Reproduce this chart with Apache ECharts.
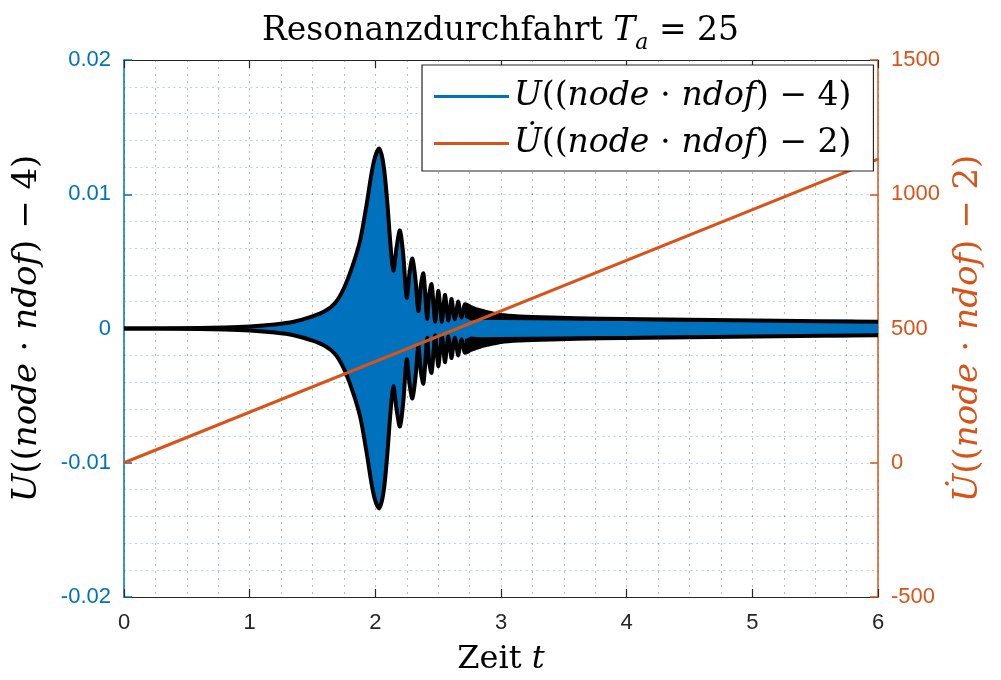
<!DOCTYPE html>
<html>
<head>
<meta charset="utf-8">
<script src="https://cdn.jsdelivr.net/npm/echarts@6/dist/echarts.min.js"></script>
<style>
  html, body { margin: 0; padding: 0; background: #ffffff; }
  #chart { width: 1001px; height: 680px; }
</style>
</head>
<body>
<div id="chart"></div>
<script>
// Displacement envelope U((node·ndof)-4): sample times and peak amplitude
const envTime = [0, 0.4, 0.8, 1.0, 1.2, 1.35, 1.5, 1.6, 1.68, 1.75, 1.82, 1.88, 1.93, 1.985, 2.03,
  2.065, 2.095, 2.12, 2.143, 2.17, 2.196, 2.222, 2.25, 2.273, 2.295, 2.32, 2.342, 2.362, 2.382,
  2.397, 2.412, 2.427, 2.447, 2.462, 2.476, 2.49, 2.502, 2.516, 2.53, 2.543, 2.555, 2.569, 2.582,
  2.595, 2.607, 2.62, 2.634, 2.647, 2.66, 2.673, 2.686, 2.7, 2.713, 2.76, 2.83, 2.9, 3.0, 3.15,
  3.4, 3.8, 4.5, 5.2, 6];
const envAmp = [0, 0.00002, 0.00008, 0.00015, 0.0003, 0.0005, 0.0009, 0.0013, 0.0019, 0.0030,
  0.0047, 0.0066, 0.0092, 0.0123, 0.0134,
  0.0122, 0.0094, 0.0063, 0.0043, 0.0061, 0.0073, 0.0055, 0.0023, 0.0042, 0.0052, 0.0036, 0.0013,
  0.0032, 0.0041, 0.0026, 0.0007, 0.0024, 0.0033, 0.0019, 0.0005, 0.0019, 0.0028, 0.0016, 0.0005,
  0.0017, 0.0025, 0.0014, 0.0006, 0.0015, 0.0022, 0.0013, 0.0007, 0.0014, 0.0020, 0.0013, 0.0008,
  0.0013, 0.0018, 0.0016, 0.00136, 0.0012, 0.0010, 0.0009, 0.00082, 0.00073, 0.00065, 0.00058,
  0.00051];

// Inner edge of the dense oscillation band (blue core) from t = 2.713 on
const coreTime = [2.713, 2.76, 2.83, 3.0, 3.5, 4.0, 5.0, 6.0];
const coreAmp = [0.0008, 0.0006, 0.00065, 0.00063, 0.0006, 0.00055, 0.0005, 0.00047];

// Velocity Udot((node·ndof)-2): straight ramp
const velTime = [0, 6];
const velValue = [0, 1131];

// Tick values
const xTicks = [0, 1, 2, 3, 4, 5, 6];
const leftTicks = [-0.02, -0.01, 0, 0.01, 0.02];
const rightTicks = [-500, 0, 500, 1000, 1500];

const BLUE = '#0072BD';
const ORANGE = '#D95319';
const DARK = '#262626';
const SANS = '"Liberation Sans", Arial, Helvetica, sans-serif';
const SERIF = '"DejaVu Serif", "Liberation Serif", serif';
const SMOOTH = 0.3;

function mathRich(size, color, lh) {
  return {
    i: { fontFamily: SERIF, fontStyle: 'italic', fontWeight: 'normal', fontSize: size, color: color, lineHeight: lh },
    r: { fontFamily: SERIF, fontWeight: 'normal', fontSize: size, color: color, lineHeight: lh }
  };
}
const uLabel = '{i|U}{r|((}{i|node}{r| \u22C5 }{i|ndof}{r|) \u2212 4)}';
const vLabel = '{i|U\u0307}{r|((}{i|node}{r| \u22C5 }{i|ndof}{r|) \u2212 2)}';

function renderEnvelope(params, api) {
  const up = envTime.map((t, i) => api.coord([t, envAmp[i]]));
  const lo = envTime.map((t, i) => api.coord([t, -envAmp[i]]));
  const k0 = envTime.indexOf(coreTime[0]);
  const inUp = coreTime.map((t, i) => api.coord([t, coreAmp[i]]));
  const inLo = coreTime.map((t, i) => api.coord([t, -coreAmp[i]]));
  const bandUp = up.slice(k0).concat(inUp.slice().reverse());
  const bandLo = lo.slice(k0).concat(inLo.slice().reverse());
  const cs = params.coordSys;
  return {
    type: 'group',
    clipPath: { type: 'rect', shape: { x: cs.x, y: cs.y, width: cs.width, height: cs.height } },
    children: [
      { type: 'polygon', shape: { points: up.concat(lo.slice().reverse()), smooth: SMOOTH },
        style: { fill: BLUE } },
      { type: 'polygon', shape: { points: bandUp }, style: { fill: '#000' } },
      { type: 'polygon', shape: { points: bandLo }, style: { fill: '#000' } },
      { type: 'polyline', shape: { points: up, smooth: SMOOTH },
        style: { stroke: '#000', lineWidth: 4, fill: null } },
      { type: 'polyline', shape: { points: lo, smooth: SMOOTH },
        style: { stroke: '#000', lineWidth: 4, fill: null } }
    ]
  };
}

const chart = echarts.init(document.getElementById('chart'), null, { renderer: 'canvas' });

const option = {
  animation: false,
  backgroundColor: '#ffffff',
  title: {
    text: '{r|Resonanzdurchfahrt }{i|T}{s|a}{r| = 25}',
    left: 'center',
    top: 3,
    textStyle: {
      fontWeight: 'normal',
      rich: {
        r: { fontFamily: SERIF, fontWeight: 'normal', fontSize: 33, color: '#000', lineHeight: 46 },
        i: { fontFamily: SERIF, fontStyle: 'italic', fontWeight: 'normal', fontSize: 33, color: '#000', lineHeight: 46 },
        s: { fontFamily: SERIF, fontStyle: 'italic', fontWeight: 'normal', fontSize: 22, color: '#000', lineHeight: 14, verticalAlign: 'bottom' }
      }
    }
  },
  grid: { left: 124, right: 123, top: 60, bottom: 83, show: false, outerBoundsMode: 'none', containLabel: false },
  legend: {
    orient: 'vertical',
    left: 422,
    top: 65,
    data: [
      { name: 'U', icon: 'rect', itemStyle: { color: BLUE } },
      { name: 'Udot', icon: 'rect', itemStyle: { color: ORANGE } }
    ],
    itemWidth: 75,
    itemHeight: 3,
    itemGap: 14,
    padding: [15, 22, 11, 12],
    borderColor: DARK,
    borderWidth: 1.2,
    backgroundColor: '#ffffff',
    selectedMode: false,
    formatter: name => (name === 'U' ? uLabel : vLabel),
    textStyle: { rich: mathRich(33, '#000', 42) }
  },
  xAxis: [
    {
      type: 'value', min: xTicks[0], max: xTicks[xTicks.length - 1], interval: xTicks[1] - xTicks[0],
      position: 'bottom',
      axisLine: { show: true, onZero: false, lineStyle: { color: DARK, width: 1.2 } },
      axisTick: { show: true, inside: true, length: 8, lineStyle: { color: DARK, width: 1.2 } },
      axisLabel: { color: DARK, fontSize: 22, fontFamily: SANS, margin: 15 },
      splitLine: { show: true, lineStyle: { type: [2, 5], color: 'rgba(38,38,38,0.32)', width: 1 } },
      minorTick: { show: false, splitNumber: 4 },
      minorSplitLine: { show: true, lineStyle: { type: [2, 5], color: 'rgba(38,38,38,0.32)', width: 1 } },
      name: '{r|Zeit }{i|t}',
      nameLocation: 'middle',
      nameGap: 42,
      nameTextStyle: { rich: mathRich(32, '#000', 42) }
    },
    {
      type: 'value', min: xTicks[0], max: xTicks[xTicks.length - 1], interval: xTicks[1] - xTicks[0],
      position: 'top',
      axisLine: { show: true, onZero: false, lineStyle: { color: DARK, width: 1.2 } },
      axisTick: { show: true, inside: true, length: 8, lineStyle: { color: DARK, width: 1.2 } },
      axisLabel: { show: false },
      splitLine: { show: false }
    }
  ],
  yAxis: [
    {
      type: 'value', min: leftTicks[0], max: leftTicks[leftTicks.length - 1],
      interval: leftTicks[1] - leftTicks[0],
      position: 'left',
      axisLine: { show: true, onZero: false, lineStyle: { color: BLUE, width: 1.5 } },
      axisTick: { show: true, inside: true, length: 8, lineStyle: { color: BLUE, width: 1.5 } },
      axisLabel: { color: BLUE, fontSize: 22, fontFamily: SANS, margin: 13,
        formatter: v => String(Math.round(v * 100) / 100) },
      splitLine: { show: true, lineStyle: { type: [2, 3.5], color: 'rgba(0,114,189,0.3)', width: 1 } },
      minorTick: { show: false, splitNumber: 5 },
      minorSplitLine: { show: true, lineStyle: { type: [2, 3.5], color: 'rgba(0,114,189,0.3)', width: 1 } },
      name: uLabel,
      nameLocation: 'middle',
      nameRotate: 90,
      nameGap: 76,
      nameTextStyle: { rich: mathRich(34, '#000', 42) }
    },
    {
      type: 'value', min: rightTicks[0], max: rightTicks[rightTicks.length - 1],
      interval: rightTicks[1] - rightTicks[0],
      position: 'right',
      axisLine: { show: true, onZero: false, lineStyle: { color: ORANGE, width: 1.5 } },
      axisTick: { show: true, inside: true, length: 8, lineStyle: { color: ORANGE, width: 1.5 } },
      axisLabel: { color: ORANGE, fontSize: 22, fontFamily: SANS, margin: 13,
        formatter: v => String(v) },
      splitLine: { show: false },
      name: vLabel,
      nameLocation: 'middle',
      nameRotate: 90,
      nameGap: 63,
      nameTextStyle: { rich: mathRich(34, ORANGE, 42) }
    }
  ],
  series: [
    {
      name: 'U',
      type: 'custom',
      xAxisIndex: 0,
      yAxisIndex: 0,
      itemStyle: { color: BLUE },
      data: [[0, 0]],
      renderItem: renderEnvelope,
      z: 2
    },
    {
      name: 'Udot',
      type: 'line',
      xAxisIndex: 0,
      yAxisIndex: 1,
      data: velTime.map((t, i) => [t, velValue[i]]),
      symbol: 'none',
      lineStyle: { color: ORANGE, width: 3 },
      itemStyle: { color: ORANGE },
      z: 3
    }
  ]
};

chart.setOption(option);
</script>
</body>
</html>
